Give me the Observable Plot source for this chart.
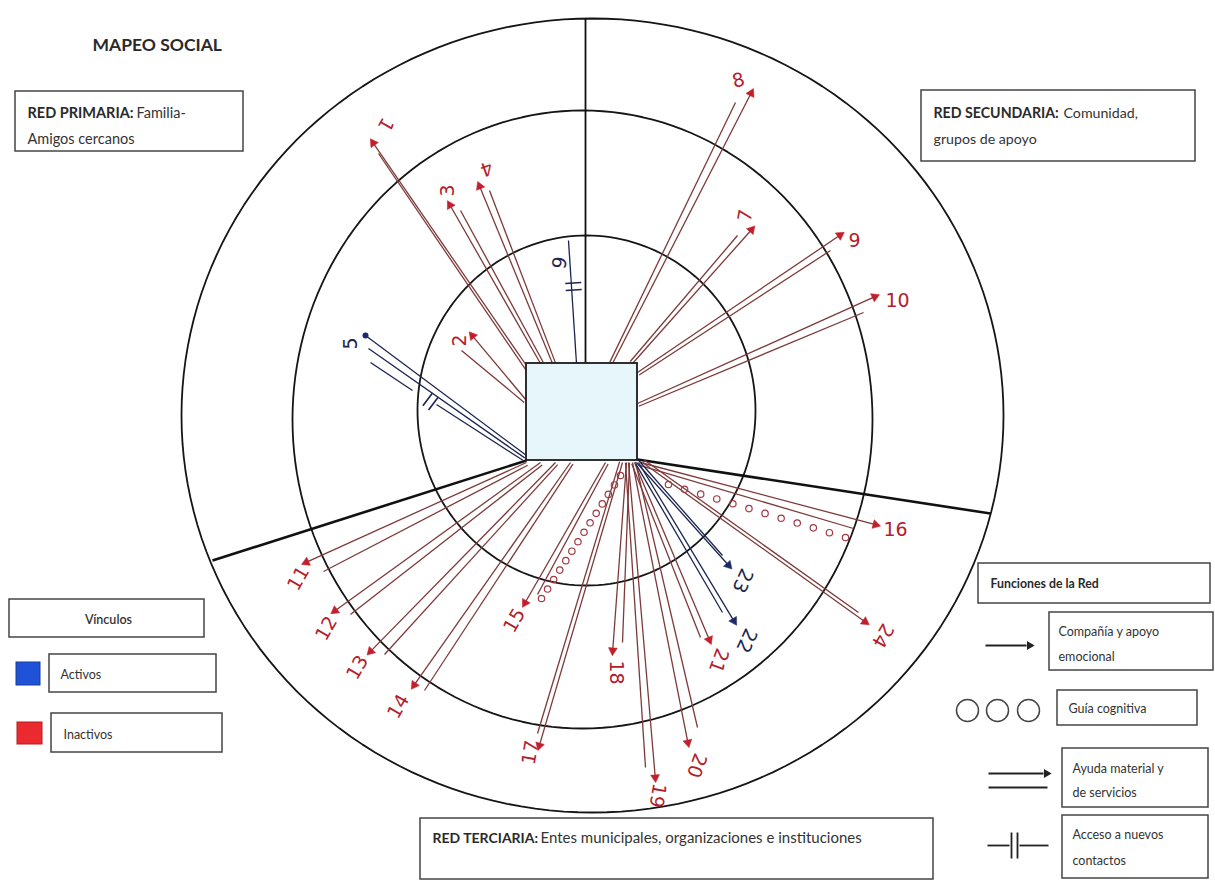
<!DOCTYPE html>
<html><head><meta charset="utf-8">
<script src="https://cdn.jsdelivr.net/npm/d3@7"></script>
<script src="https://cdn.jsdelivr.net/npm/@observablehq/plot@0.6"></script>
<style>html,body{margin:0;padding:0;background:#fff;} #chart{width:1215px;height:880px;overflow:hidden}</style>
</head><body><div id="chart"></div>
<script>
// ---------- data ----------
// rings (inner = cercano, middle, outer)
const ringCx = [586, 582, 592];
const ringCy = [410, 419, 415];
const ringRx = [169, 290, 411];
const ringRy = [175, 309, 397];

// sector dividers: from the central square out to the outer ring
const dividerFromX = [585, 526, 637];
const dividerFromY = [363, 460, 459];
const dividerToX = [585, 212, 990];
const dividerToY = [18, 560, 513];

// central square (ego)
const egoX = [526, 637];
const egoY = [363, 460];

// links
const linkIds = ["1","2","3","4","5","6","7","8","9","10","11","12","13","14","15","16","17","18","19","20","21","22","23","24"];
const activeIds = ["5","6","22","23"];
const guideIds = ["15","16"];          // Guía cognitiva (ooo)
const accessIds = ["5","6"];            // Acceso a nuevos contactos
const startX = [528,526,540,552,526,576,632,612,637,637,526,540,555,570,605,640,622,626,628,632,634,638,636,642];
const startY = [368,400,363,363,455,363,363,363,372,403,462,462,462,462,462,462,462,462,462,462,462,462,462,462];
const tipX  = [371,470,448,478,365,568,753,752,842,877,303,332,368,412,523,878,538,612,655,688,710,735,730,867];
const tipY  = [140,333,202,183,335,240,227, 90,233,295,563,612,653,687,605,525,748,653,780,745,642,623,567,623];
const tip2X = [378,461,460,489,368,null,737,735,830,863,323,350,384,424,537,853,537,622,645,697,700,722,722,858];
const tip2Y = [153,350,210,190,348,null,235,102,250,312,571,614,654,690,594,528,733,642,767,727,637,612,555,612];
const labelX = [385,459,447,486,350,558,745,738,854,897,298,326,357,398,514,895,530,616,657,696,718,746,742,882];
const labelY = [124,340,190,168,343,262,215, 80,240,300,578,628,667,706,620,529,752,672,795,765,660,640,580,635];
const labelRot = [120,-90,-90,160,-90,100,-80,-15,0,0,-60,-60,-60,-60,-60,0,-80,90,100,110,110,115,115,120];

// guía cognitiva circles
const guideFromX = [620, 668], guideFromY = [475, 484];
const guideToX = [541, 845],   guideToY = [598, 537];
const guideCount = [14, 12];

// acceso marks (centre of the || sign)
const accessX = [430, 573], accessY = [401, 286];

// legend / annotation boxes
const boxNames = ["primaria","secundaria","terciaria","funciones","compania","guia","ayuda","acceso","vinculos","activos","inactivos"];
const boxX1 = [15, 921, 420, 978, 1049, 1057, 1062, 1062, 9, 49, 51];
const boxX2 = [243, 1195, 933, 1210, 1213, 1197, 1208, 1208, 204, 216, 222];
const boxY1 = [91, 90, 818, 563, 612, 690, 748, 815, 599, 654, 713];
const boxY2 = [151, 161, 879, 603, 670, 725, 807, 878, 637, 692, 752];

const textBold = [
  {t:"MAPEO SOCIAL", x:92, y:45, s:17.5},
  {t:"RED PRIMARIA:", x:27, y:113, s:14.5},
  {t:"RED SECUNDARIA:", x:933, y:113, s:14.2},
  {t:"RED TERCIARIA:", x:432, y:838, s:14},
  {t:"Funciones de la Red", x:990, y:584, s:12.3}
];
const textPlain = [
  {t:"Familia-", x:136, y:113, s:14.5}, {t:"Amigos cercanos", x:27, y:139, s:14.5},
  {t:"Comunidad,", x:1063, y:113, s:14.2}, {t:"grupos de apoyo", x:933, y:139, s:14.2},
  {t:"Entes municipales, organizaciones e instituciones", x:540, y:838, s:15},
  {t:"Compañía y apoyo", x:1058, y:631, s:12.5}, {t:"emocional", x:1058, y:656, s:12.5},
  {t:"Guía cognitiva", x:1068, y:708, s:12.5},
  {t:"Ayuda material y", x:1072, y:768, s:12.5}, {t:"de servicios", x:1072, y:792, s:12.5},
  {t:"Acceso a nuevos", x:1072, y:834, s:12.5}, {t:"contactos", x:1072, y:860, s:12.5},
  {t:"Activos", x:60, y:674, s:12.5}, {t:"Inactivos", x:63, y:734, s:12.5}
];
const vinculosTitle = {t:"Vínculos", x:108, y:619};
const vinculosSwatch = [{name:"Activos", x1:16,x2:40,y1:662,y2:685},{name:"Inactivos", x1:17,x2:42,y1:722,y2:744}];

// ---------- derived tables ----------
const RED_LINE = "#7d3a3a", RED_HEAD = "#c21f2c", RED_TEXT = "#b3202c";
const BLUE_LINE = "#1b2550", BLUE_HEAD = "#1b2a6b";

const links = linkIds.map((id, i) => {
  const dx = tipX[i] - startX[i], dy = tipY[i] - startY[i];
  const L = Math.hypot(dx, dy), ux = dx / L, uy = dy / L;
  const px = -uy, py = ux;
  let side = 0;
  if (tip2X[i] != null) {
    const c = (tip2X[i] - tipX[i]) * px + (tip2Y[i] - tipY[i]) * py;
    side = c >= 0 ? 1 : -1;
  }
  return {id, i, active: activeIds.includes(id), x0: startX[i], y0: startY[i], x1: tipX[i], y1: tipY[i],
    x2: tip2X[i], y2: tip2Y[i], ux, uy, px, py, side,
    angle: Math.atan2(ux, -uy) * 180 / Math.PI};
});

const segs = [];
for (const l of links) {
  const col = l.active ? BLUE_LINE : RED_LINE;
  const back = (l.id === "5" || l.id === "6") ? 0 : 4;
  segs.push({x1: l.x0, y1: l.y0, x2: l.x1 - back * l.ux, y2: l.y1 - back * l.uy, c: col});
  if (l.x2 != null) {
    segs.push({x1: l.x0 + 3 * l.side * l.px, y1: l.y0 + 3 * l.side * l.py, x2: l.x2, y2: l.y2, c: col});
  }
}
// link 5: third (broken) line with acceso sign
{
  const l = links[4];
  segs.push({x1: 370, y1: 362, x2: 412, y2: 390, c: BLUE_LINE});
  segs.push({x1: 436, y1: 404, x2: l.x0 + 6 * l.side * l.px, y2: l.y0 + 6 * l.side * l.py, c: BLUE_LINE});
}

const heads = links.filter(l => l.id !== "5" && l.id !== "6").map(l => ({
  x: l.x1 - 3 * l.ux, y: l.y1 - 3 * l.uy, a: l.angle, c: l.active ? BLUE_HEAD : RED_HEAD
}));
const endDots = links.filter(l => l.id === "5").map(l => ({x: l.x1, y: l.y1}));

const accessBars = accessIds.flatMap((id, k) => {
  const l = links.find(d => d.id === id);
  return [-3.5, 3.5].map(o => ({
    x1: accessX[k] + o * l.ux - 8 * l.px, y1: accessY[k] + o * l.uy - 8 * l.py,
    x2: accessX[k] + o * l.ux + 8 * l.px, y2: accessY[k] + o * l.uy + 8 * l.py,
    c: l.active ? BLUE_LINE : RED_LINE
  }));
});

const guideDots = guideIds.flatMap((id, k) => d3.range(guideCount[k]).map(j => {
  const t = j / (guideCount[k] - 1);
  return {x: guideFromX[k] + t * (guideToX[k] - guideFromX[k]), y: guideFromY[k] + t * (guideToY[k] - guideFromY[k])};
}));

const ringPts = ringRx.flatMap((rx, k) => d3.range(0, 361, 2).map(a => ({
  k, x: ringCx[k] + rx * Math.cos(a * Math.PI / 180), y: ringCy[k] + ringRy[k] * Math.sin(a * Math.PI / 180)
})));

const dividers = dividerFromX.map((x, i) => ({x1: x, y1: dividerFromY[i], x2: dividerToX[i], y2: dividerToY[i]}));
const boxes = boxNames.map((n, i) => ({n, x1: boxX1[i], x2: boxX2[i], y1: boxY1[i], y2: boxY2[i]}));

// legend symbols for Funciones de la Red
const legLines = [
  {x1: 985, y1: 645, x2: 1026, y2: 645},
  {x1: 988, y1: 773, x2: 1043, y2: 773},
  {x1: 988, y1: 787, x2: 1047, y2: 787},
  {x1: 987, y1: 845, x2: 1009, y2: 845},
  {x1: 1019, y1: 845, x2: 1048, y2: 845},
  {x1: 1011, y1: 832, x2: 1011, y2: 858},
  {x1: 1017, y1: 832, x2: 1017, y2: 858}
];
const legHeads = [{x: 1029, y: 645}, {x: 1046, y: 773}];
const legCircles = [{x: 967, y: 710}, {x: 997, y: 710}, {x: 1028, y: 710}];

const FONT = "Lato, 'Open Sans', sans-serif";

const chart = Plot.plot({
  width: 1215, height: 880, margin: 0,
  x: {domain: [0, 1215], axis: null},
  y: {domain: [0, 880], reverse: true, axis: null},
  style: {background: "#fff"},
  marks: [
    Plot.line(ringPts, {x: "x", y: "y", z: "k", stroke: "#151515", strokeWidth: 1.8}),
    Plot.link(dividers, {x1: "x1", y1: "y1", x2: "x2", y2: "y2", stroke: "#111", strokeWidth: (d, i) => i === 0 ? 1.8 : 2.6}),
    Plot.link(segs, {x1: "x1", y1: "y1", x2: "x2", y2: "y2", stroke: "c", strokeWidth: 1.3}),
    Plot.link(accessBars, {x1: "x1", y1: "y1", x2: "x2", y2: "y2", stroke: "c", strokeWidth: 1.6}),
    Plot.dot(guideDots, {x: "x", y: "y", r: 3.2, stroke: "#a03a44", strokeWidth: 1.2, fill: "none"}),
    Plot.dot(heads, {x: "x", y: "y", symbol: "triangle", r: 3.3, fill: "c", stroke: "c", strokeWidth: 0.5, rotate: "a"}),
    Plot.dot(endDots, {x: "x", y: "y", r: 3, fill: BLUE_HEAD}),
    Plot.rect([0], {x1: egoX[0], x2: egoX[1], y1: egoY[0], y2: egoY[1], fill: "#e6f6fa", stroke: "#1a1a1a", strokeWidth: 1.8}),
    Plot.text(links, {x: (d) => labelX[d.i], y: (d) => labelY[d.i], text: "id", rotate: (d) => labelRot[d.i],
      fill: (d) => d.active ? BLUE_LINE : RED_TEXT, fontSize: 19, fontFamily: "'DejaVu Sans', sans-serif"}),
    // annotation boxes
    Plot.rect(boxes, {x1: "x1", x2: "x2", y1: "y1", y2: "y2", fill: "#fff", stroke: "#444", strokeWidth: 1.5}),
    Plot.rect(vinculosSwatch, {x1: "x1", x2: "x2", y1: "y1", y2: "y2", fill: (d) => d.name === "Activos" ? "#1f52d6" : "#ea2a2f",
      stroke: (d) => d.name === "Activos" ? "#163c9c" : "#b01f24", strokeWidth: 1}),
    Plot.text(textBold, {x: "x", y: "y", text: "t", fontSize: (d) => d.s, textAnchor: "start", fontWeight: "bold",
      fill: "#2a2a2a", fontFamily: FONT}),
    Plot.text(textPlain, {x: "x", y: "y", text: "t", fontSize: (d) => d.s, textAnchor: "start", fill: "#333", fontFamily: FONT}),
    Plot.text([vinculosTitle], {x: "x", y: "y", text: "t", fontSize: 12.5, fontWeight: 600, fill: "#333", fontFamily: FONT}),
    Plot.link(legLines, {x1: "x1", y1: "y1", x2: "x2", y2: "y2", stroke: "#222", strokeWidth: 1.8}),
    Plot.dot(legHeads, {x: "x", y: "y", symbol: "triangle", r: 3.3, fill: "#222", rotate: 90}),
    Plot.dot(legCircles, {x: "x", y: "y", r: 11, stroke: "#444", strokeWidth: 1.5, fill: "none"})
  ]
});
document.getElementById("chart").appendChild(chart);
</script></body></html>
